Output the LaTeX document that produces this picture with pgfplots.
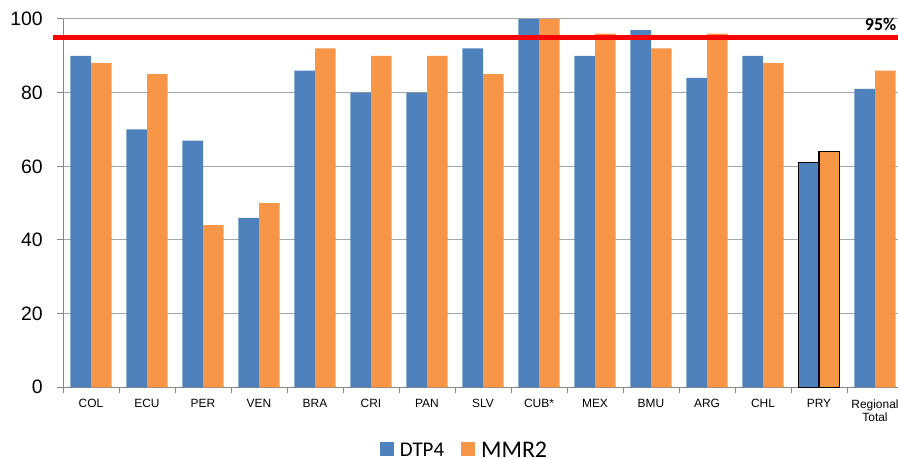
\documentclass[border=0pt]{standalone}
\usepackage{fontspec}
\setmainfont{Liberation Sans}
\newfontfamily\carlito{Carlito}
\usepackage{pgfplots}
\pgfplotsset{compat=1.18}
\definecolor{dtpblue}{HTML}{4F81BD}
\definecolor{mmrorange}{HTML}{F79646}
\definecolor{gridgray}{HTML}{A6A6A6}
\definecolor{axisgray}{HTML}{868686}
\pgfplotstableread{
x dtp mmr
0 90 88
1 70 85
2 67 44
3 46 50
4 86 92
5 80 90
6 80 90
7 92 85
8 100 100
9 90 96
10 97 92
11 84 96
12 90 88
13 61 64
14 81 86
}\datatab
\begin{document}
\begin{tikzpicture}
\useasboundingbox (-63bp,-70.7bp) rectangle (835bp,387.3bp);
\begin{axis}[
  at={(0bp,0bp)}, anchor=south west,
  scale only axis, width=840bp, height=368.3bp,
  xmin=-0.5, xmax=14.5, ymin=0, ymax=100,
  axis x line*=bottom, axis y line*=left,
  axis line style={axisgray, line width=1bp},
  every inner x axis line/.append style={-},
  every inner y axis line/.append style={-},
  ymajorgrids, grid style={gridgray, line width=1bp},
  tick align=outside, major tick length=6bp,
  tick style={axisgray, line width=1bp},
  ytick={0,20,40,60,80,100},
  /pgf/number format/assume math mode=true,
  yticklabel style={font=\fontsize{19.5}{20}\selectfont, inner sep=0pt, xshift=-14bp},
  xtick={-0.5,0.5,1.5,2.5,3.5,4.5,5.5,6.5,7.5,8.5,9.5,10.5,11.5,12.5,13.5,14.5},
  x tick label as interval,
  xticklabels={COL,ECU,PER,VEN,BRA,CRI,PAN,SLV,CUB*,MEX,BMU,ARG,CHL,PRY,{Regional\\Total}},
  xticklabel style={font=\fontsize{12}{13.5}\selectfont, align=center, inner sep=0pt, yshift=-6bp},
  clip=false,
  legend style={draw=none, fill=none, legend columns=-1,
    at={(0.377,0)}, anchor=west, yshift=-62bp, inner sep=0pt,
    nodes={inner sep=2bp, text depth=0pt},
    /tikz/every odd column/.append style={column sep=4bp},
    /tikz/every even column/.append style={column sep=15bp}},
  legend image code/.code={\fill[#1,draw=none] (0bp,-7bp) rectangle (14bp,7bp);},
]
\addplot[ybar, bar width=20.7bp, bar shift=-10.35bp, fill=dtpblue, draw=none] table[x=x,y=dtp]{\datatab};
\addlegendentry{\carlito\fontsize{21}{21}\selectfont DTP4}
\addplot[ybar, bar width=20.7bp, bar shift=10.35bp, fill=mmrorange, draw=none] table[x=x,y=mmr]{\datatab};
\addlegendentry{\carlito\fontsize{24}{24}\selectfont MMR2}
\addplot[ybar, bar width=20.7bp, bar shift=-10.35bp, fill=dtpblue, draw=black, line width=1.3bp, forget plot] coordinates {(13,61)};
\addplot[ybar, bar width=20.7bp, bar shift=10.35bp, fill=mmrorange, draw=black, line width=1.3bp, forget plot] coordinates {(13,64)};
\addplot[red, line width=4.3bp, forget plot] coordinates {(-0.68,95) (14.5,95)};
\node[font=\carlito\bfseries\fontsize{18}{18}\selectfont, inner sep=0pt] at (axis cs:14.1,98.4) {95\%};
\end{axis}
\end{tikzpicture}
\end{document}
